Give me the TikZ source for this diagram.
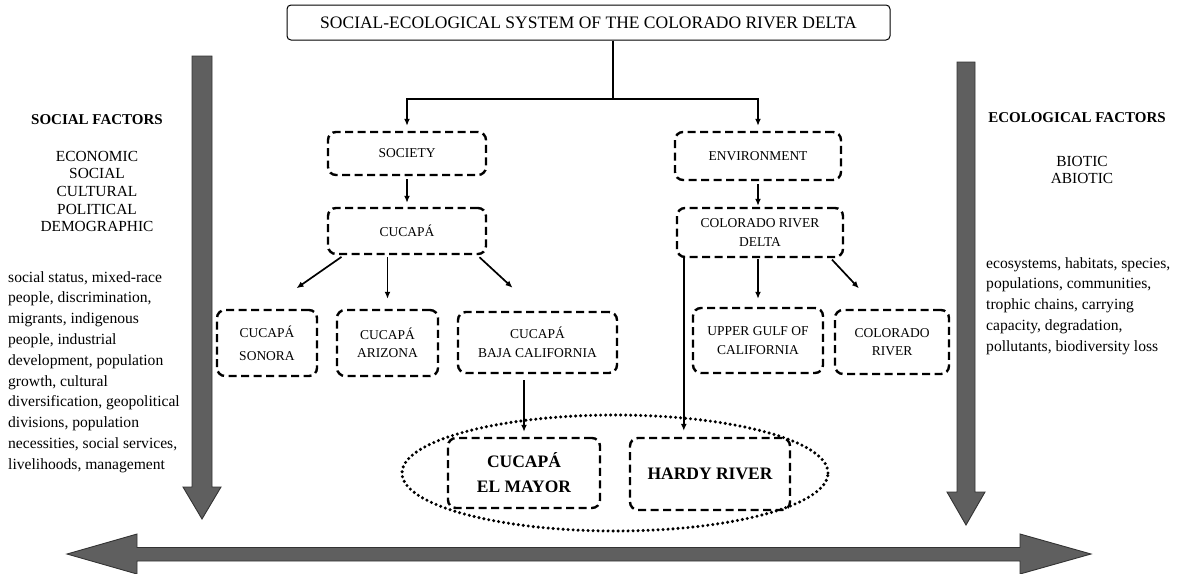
\documentclass[tikz,border=0pt]{standalone}
\usepackage{fontspec}
\setmainfont{Liberation Serif}
\usetikzlibrary{arrows.meta,calc,shapes.geometric}
\definecolor{pfeilgrau}{RGB}{95,95,95}
\begin{document}
\begin{tikzpicture}[x=1pt,y=-1pt,
  kasten/.style={draw,line width=2.4pt,dash pattern=on 8pt off 4.5pt,rounded corners=8pt,
    align=center,inner sep=2pt,font=\fontsize{13.5}{18.5}\selectfont},
  pfeil/.style={-{Latex[length=7pt,width=6pt]},line width=1.7pt},
  grau/.style={fill=pfeilgrau,draw=black!80,line width=0.9pt},
  seite/.style={align=left,inner sep=0pt,font=\fontsize{15.6}{20.8}\selectfont}]
  \useasboundingbox (0,0) rectangle (1178,573);
  % Titel
  \node[draw,rounded corners=4pt,line width=1pt,minimum width=603pt,minimum height=35pt,
    font=\fontsize{17.5}{20}\selectfont] (titel) at (588.5,22.5)
    {SOCIAL-ECOLOGICAL SYSTEM OF THE COLORADO RIVER DELTA};
  % Gesellschaft
  \node[kasten,minimum width=158pt,minimum height=43pt] (society) at (407,153.5) {SOCIETY};
  \node[kasten,minimum width=158pt,minimum height=46pt] (cucapa) at (407,231) {CUCAPÁ};
  \node[kasten,minimum width=100pt,minimum height=66pt] (sonora) at (267,343) {CUCAPÁ\\[4.5pt]SONORA};
  \node[kasten,minimum width=101pt,minimum height=66pt] (arizona) at (387.5,343) {CUCAPÁ\\ARIZONA};
  \node[kasten,minimum width=159pt,minimum height=61pt] (baja) at (537.5,342.5) {CUCAPÁ\\BAJA CALIFORNIA};
  % Umwelt
  \node[kasten,minimum width=166pt,minimum height=48pt] (env) at (758,156) {ENVIRONMENT};
  \node[kasten,minimum width=166pt,minimum height=49pt] (crd) at (760,232.5) {COLORADO RIVER\\DELTA};
  \node[kasten,minimum width=130pt,minimum height=65pt] (gulf) at (758,340.5) {UPPER GULF OF\\CALIFORNIA};
  \node[kasten,minimum width=114pt,minimum height=64pt] (river) at (892,342) {COLORADO\\RIVER};
  % Zone unten
  \node[draw,ellipse,line width=3.4pt,dash pattern=on 0pt off 5pt,line cap=round,
    minimum width=426pt,minimum height=116pt,inner sep=0pt] (zone) at (615,473) {};
  \node[kasten,minimum width=152pt,minimum height=70pt,
    font=\bfseries\fontsize{17.5}{25}\selectfont] (mayor) at (524,473) {CUCAPÁ\\EL MAYOR};
  \node[kasten,minimum width=160pt,minimum height=72pt,
    font=\bfseries\fontsize{17.5}{25}\selectfont] (hardy) at (710,474) {HARDY RIVER};
  % Verbindungen
  \coordinate (knoten) at (613,99);
  \draw[line width=1.7pt] (titel.south -| knoten) -- (knoten);
  \draw[pfeil,shorten >=5pt] (knoten) -| (society.north);
  \draw[pfeil,shorten >=5pt] (knoten) -| (env.north);
  \draw[pfeil,shorten <=3pt,shorten >=4pt] (society.south) -- (cucapa.north);
  \draw[pfeil,shorten <=3pt,shorten >=36pt] (cucapa.-159) -- (sonora.north);
  \draw[pfeil,shorten <=2pt,shorten >=10pt] (arizona.north |- cucapa.south) -- (arizona.north);
  \draw[pfeil,shorten <=3pt,shorten >=34pt] (cucapa.-19) -- (baja.north);
  \draw[pfeil,shorten <=6pt,shorten >=5pt] (mayor.north |- baja.south) -- (mayor.north);
  \draw[pfeil,shorten <=3pt,shorten >=1pt] (env.south) -- (env.south |- crd.north);
  \draw[pfeil,shorten <=1pt,shorten >=8pt] (gulf.north |- crd.south) -- (gulf.north);
  \draw[pfeil,shorten <=2pt,shorten >=28pt] (crd.-20) -- ($(river.north west)!0.38!(river.north east)$);
  \coordinate (abzweig) at ($(crd.south west)+(8,0)$);
  \draw[pfeil,shorten >=6pt] (abzweig) -- (abzweig |- hardy.north);
  % graue Pfeile
  \draw[grau] (192,56) -- (212,56) -- (212,487) -- (221,487) -- (202,519) -- (183,487) -- (192,487) -- cycle;
  \draw[grau] (957,62) -- (975,62) -- (975,492) -- (985,492) -- (966,525) -- (947,492) -- (957,492) -- cycle;
  \draw[grau] (67,554) -- (137,534) -- (137,547.5) -- (1020,547.5) -- (1020,534) -- (1091,554)
    -- (1020,574) -- (1020,561) -- (137,561) -- (137,574) -- cycle;
  % soziale Faktoren
  \node[font=\bfseries\fontsize{15}{18}\selectfont] (sozial) at (97,120) {SOCIAL FACTORS};
  \node[align=center,font=\fontsize{15.4}{17.7}\selectfont] (sozliste) at (97,191.5)
    {ECONOMIC\\SOCIAL\\CULTURAL\\POLITICAL\\DEMOGRAPHIC};
  \node[seite,anchor=north west] (sozdetail) at (8,271)
    {social status, mixed-race\\people, discrimination,\\migrants, indigenous\\people, industrial\\
     development, population\\growth, cultural\\diversification, geopolitical\\divisions, population\\
     necessities, social services,\\livelihoods, management};
  % oekologische Faktoren
  \node[font=\bfseries\fontsize{15}{18}\selectfont] (oeko) at (1077,118) {ECOLOGICAL FACTORS};
  \node[align=center,font=\fontsize{15.4}{17}\selectfont] (oekoliste) at (1082,169.5) {BIOTIC\\ABIOTIC};
  \node[seite,anchor=north west] (oekodetail) at (986,257)
    {ecosystems, habitats, species,\\populations, communities,\\trophic chains, carrying\\
     capacity, degradation,\\pollutants, biodiversity loss};
\end{tikzpicture}
\end{document}
